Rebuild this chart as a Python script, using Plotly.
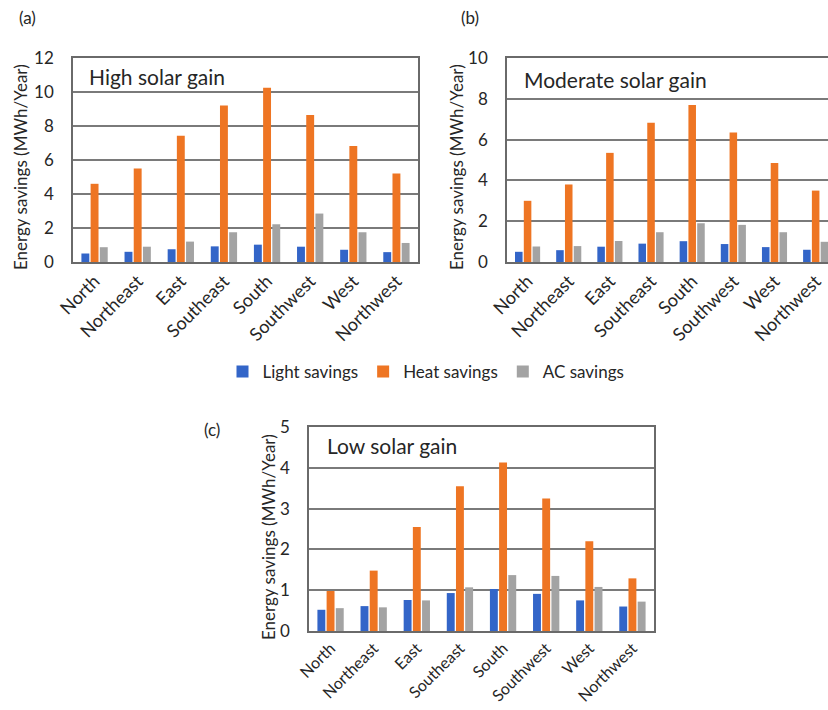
import plotly.graph_objects as go

directions = ["North", "Northeast", "East", "Southeast", "South", "Southwest", "West", "Northwest"]
series_names = ["Light savings", "Heat savings", "AC savings"]
series_colors = ["#3365C8", "#EE7523", "#A3A3A3"]

# (a) High solar gain
high_light = [0.50, 0.60, 0.75, 0.92, 1.02, 0.90, 0.72, 0.58]
high_heat = [4.60, 5.50, 7.42, 9.20, 10.25, 8.65, 6.82, 5.20]
high_ac = [0.87, 0.90, 1.20, 1.75, 2.22, 2.85, 1.75, 1.12]

# (b) Moderate solar gain
mod_light = [0.50, 0.58, 0.75, 0.90, 1.02, 0.88, 0.73, 0.60]
mod_heat = [3.00, 3.80, 5.35, 6.82, 7.70, 6.35, 4.85, 3.50]
mod_ac = [0.76, 0.78, 1.03, 1.46, 1.90, 1.82, 1.46, 0.99]

# (c) Low solar gain
low_light = [0.52, 0.61, 0.76, 0.93, 1.03, 0.91, 0.75, 0.60]
low_heat = [0.98, 1.48, 2.55, 3.55, 4.13, 3.25, 2.20, 1.29]
low_ac = [0.56, 0.58, 0.75, 1.07, 1.37, 1.35, 1.08, 0.72]

panels = [
    ("High solar gain", [high_light, high_heat, high_ac], 12, 2, "(a)"),
    ("Moderate solar gain", [mod_light, mod_heat, mod_ac], 10, 2, "(b)"),
    ("Low solar gain", [low_light, low_heat, low_ac], 5, 1, "(c)"),
]

W, H = 828, 710
def fx(p):
    return p / W
def fy(p):
    return 1 - p / H

# pixel boxes: (left, right, top, bottom)
boxes = [(73, 418, 58, 262), (507, 828, 58, 262), (309, 654, 427, 631)]
xranges = [[-0.5, 7.5], [-0.5, 7.3], [-0.5, 7.5]]
xtick_sizes = [18, 18, 16]

FONT = "Lato, 'Open Sans', sans-serif"
TXT = "#262626"
GRID = "#7a7a7a"
FRAME = "#6a6a6a"

fig = go.Figure()
for i, (title, vals, ymax, dt, tag) in enumerate(panels):
    xa = "x" if i == 0 else f"x{i+1}"
    ya = "y" if i == 0 else f"y{i+1}"
    for j in range(3):
        fig.add_trace(go.Bar(
            x=directions, y=vals[j], name=series_names[j],
            marker=dict(color=series_colors[j], line=dict(width=0)),
            xaxis=xa, yaxis=ya, showlegend=(i == 0), legendgroup=series_names[j],
            hoverinfo="skip",
        ))
    l, r, t, b = boxes[i]
    xkey = "xaxis" if i == 0 else f"xaxis{i+1}"
    ykey = "yaxis" if i == 0 else f"yaxis{i+1}"
    fig.layout[xkey] = dict(
        domain=[fx(l), fx(r)], anchor=ya, type="category", range=xranges[i],
        showline=True, linecolor=FRAME, linewidth=1.5, mirror=True,
        showgrid=False, ticks="", tickangle=-45, automargin=False,
        tickfont=dict(family=FONT, size=xtick_sizes[i], color=TXT),
    )
    fig.layout[ykey] = dict(
        domain=[fy(b), fy(t)], anchor=xa, range=[0, ymax], dtick=dt,
        showline=True, linecolor=FRAME, linewidth=1.5, mirror=(i != 1),
        showgrid=True, gridcolor=GRID, gridwidth=1.5, zeroline=False,
        ticks="", ticklabelstandoff=14, automargin=False,
        tickfont=dict(family=FONT, size=17, color=TXT),
    )

# panel titles inside plot
inner = [(87, 77), (522, 80), (325, 445)]
for (title, _, _, _, _), (px_, py_) in zip(panels, inner):
    fig.add_annotation(x=fx(px_), y=fy(py_), xref="paper", yref="paper", text=title,
                       showarrow=False, xanchor="left", yanchor="middle",
                       font=dict(family=FONT, size=21, color=TXT))

# panel tags
tags = [(27, 18), (470, 18), (212, 429)]
for (_, _, _, _, tag), (px_, py_) in zip(panels, tags):
    fig.add_annotation(x=fx(px_), y=fy(py_), xref="paper", yref="paper", text=tag,
                       showarrow=False, xanchor="center", yanchor="middle",
                       font=dict(family=FONT, size=17, color=TXT))

# y-axis titles
ytitles = [(20, 167), (456, 167), (268, 537)]
for px_, py_ in ytitles:
    fig.add_annotation(x=fx(px_), y=fy(py_), xref="paper", yref="paper",
                       text="Energy savings (MWh/Year)", textangle=-90,
                       showarrow=False, xanchor="center", yanchor="middle",
                       font=dict(family=FONT, size=17, color=TXT))

fig.update_layout(
    width=W, height=H, margin=dict(l=0, r=0, t=0, b=0, autoexpand=False),
    paper_bgcolor="white", plot_bgcolor="white",
    barmode="group", bargap=0.36, bargroupgap=0.14,
    legend=dict(orientation="h", x=fx(426), y=fy(372), xanchor="center", yanchor="middle",
                font=dict(family=FONT, size=17, color=TXT), itemwidth=30,
                traceorder="normal", bgcolor="rgba(0,0,0,0)"),
    font=dict(family=FONT, color=TXT),
)

fig.write_html("out.html", config={"displayModeBar": False},
               post_script="document.body.style.margin='0';document.body.style.overflow='hidden';")
